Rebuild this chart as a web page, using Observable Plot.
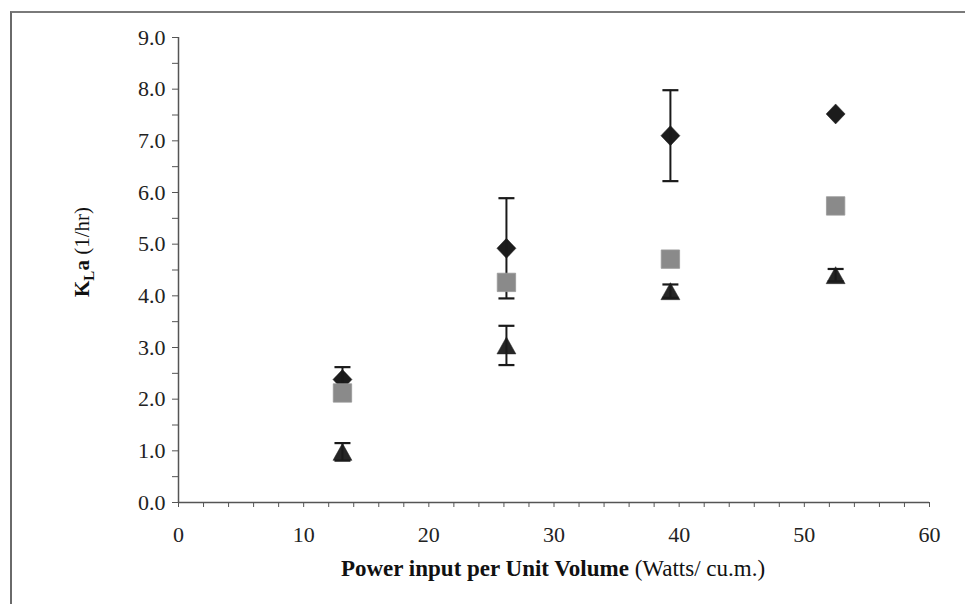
<!DOCTYPE html>
<html>
<head>
<meta charset="utf-8">
<script src="https://cdn.jsdelivr.net/npm/d3@7"></script>
<script src="https://cdn.jsdelivr.net/npm/@observablehq/plot@0.6"></script>
<style>
  body { margin: 0; background: #fff; }
  #wrap { position: relative; width: 965px; height: 604px; overflow: hidden; }
  #frame { position: absolute; left: 10px; top: 11px; right: -2px; bottom: -2px;
           border-left: 2px solid #6a6a6a; border-top: 2px solid #7a7a7a; pointer-events: none; }
</style>
</head>
<body>
<div id="wrap"><div id="frame"></div></div>
<script>
// ---- data ----
const xValues  = [13.1, 26.2, 39.3, 52.5];          // Power input per unit volume (W/m³)
const seriesA  = [2.38, 4.92, 7.10, 7.52];          // diamonds
const errA     = [0.24, 0.97, 0.88, 0.00];
const seriesB  = [2.12, 4.26, 4.71, 5.74];          // squares
const errB     = [0.00, 0.00, 0.00, 0.00];
const seriesC  = [0.98, 3.04, 4.09, 4.40];          // triangles
const errC     = [0.17, 0.38, 0.13, 0.12];
const xTickLabels = [0, 10, 20, 30, 40, 50, 60];
const yTickLabels = [0, 1, 2, 3, 4, 5, 6, 7, 8, 9];

const rows = (ys, es) => xValues.map((x, i) => ({x, y: ys[i], e: es[i]}));
const A = rows(seriesA, errA), B = rows(seriesB, errB), C = rows(seriesC, errC);
const caps = d => d.filter(r => r.e > 0).flatMap(r => [{x: r.x, y: r.y + r.e}, {x: r.x, y: r.y - r.e}]);

// ---- custom symbols ----
const rad = s => Math.sqrt(s / Math.PI);
const diamondSym = {draw(c, s) { const r = rad(s); c.moveTo(0, -r); c.lineTo(r * 0.95, 0); c.lineTo(0, r); c.lineTo(-r * 0.95, 0); c.closePath(); }};
const squareSym  = {draw(c, s) { const r = rad(s) * 0.92; c.moveTo(-r, -r); c.lineTo(r, -r); c.lineTo(r, r); c.lineTo(-r, r); c.closePath(); }};
const triSym     = {draw(c, s) { const r = rad(s); c.moveTo(0, -0.85 * r); c.lineTo(0.95 * r, 0.85 * r); c.lineTo(-0.95 * r, 0.85 * r); c.closePath(); }};
const capSym     = {draw(c, s) { const r = rad(s); c.moveTo(-0.8 * r, 0); c.lineTo(0.8 * r, 0); }};

const xMinor = d3.range(0, 61, 2);
const yMinor = d3.range(0, 9.01, 0.5);

const errMarks = (d, color) => [
  Plot.ruleX(d.filter(r => r.e > 0), {x: "x", y1: r => r.y - r.e, y2: r => r.y + r.e, stroke: color, strokeWidth: 2}),
  Plot.dot(caps(d), {x: "x", y: "y", r: 10, symbol: capSym, fill: "none", stroke: color, strokeWidth: 2.2})
];

const FONT = "'Liberation Serif', 'Times New Roman', serif";

const plot = Plot.plot({
  width: 965, height: 604,
  marginLeft: 178, marginRight: 36, marginTop: 37, marginBottom: 102,
  style: {fontFamily: FONT, fontSize: "22px", color: "#222", background: "transparent"},
  x: {domain: [0, 60]},
  y: {domain: [0, 9]},
  marks: [
    Plot.axisX({ticks: xMinor, tickSize: 5, tickPadding: 19, stroke: "#555",
                tickFormat: d => xTickLabels.includes(d) ? String(d) : "", label: null}),
    Plot.axisY({ticks: yMinor, tickSize: 6, tickPadding: 7, stroke: "#555",
                tickFormat: d => yTickLabels.includes(d) ? d.toFixed(1) : "", label: null}),
    Plot.ruleX([0], {stroke: "#555", strokeWidth: 1.5}),
    Plot.ruleY([0], {stroke: "#555", strokeWidth: 1.5}),
    Plot.dot(A, {x: "x", y: "y", r: 10, symbol: diamondSym, fill: "#1c1c1c", stroke: "#1c1c1c", strokeWidth: 0.5}),
    ...errMarks(A, "#1a1a1a"),
    Plot.dot(B, {x: "x", y: "y", r: 10, symbol: squareSym, fill: "#8a8a8a", stroke: "#999", strokeWidth: 0.8}),
    ...errMarks(B, "#1a1a1a"),
    Plot.dot(C, {x: "x", y: "y", r: 10, symbol: triSym, fill: "#262626", stroke: "#262626", strokeWidth: 0.5}),
    ...errMarks(C, "#1a1a1a")
  ]
});

const svg = d3.select(plot);
// x-axis title
const xt = svg.append("text")
  .attr("x", 553).attr("y", 576)
  .attr("text-anchor", "middle")
  .attr("fill", "#111")
  .style("font-family", FONT)
  .style("font-size", "23px");
xt.append("tspan").attr("font-weight", "bold").text("Power input per Unit Volume");
xt.append("tspan").text(" (Watts/ cu.m.)");
// y-axis title
const yt = svg.append("text")
  .attr("transform", "translate(89,252) rotate(-90)")
  .attr("text-anchor", "middle")
  .attr("fill", "#111")
  .style("font-family", FONT)
  .style("font-size", "21px");
yt.append("tspan").attr("font-weight", "bold").text("K");
yt.append("tspan").attr("font-weight", "bold").attr("font-size", "15px").attr("dy", "5").text("L");
yt.append("tspan").attr("font-weight", "bold").attr("dy", "-5").text("a");
yt.append("tspan").text(" (1/hr)");

document.getElementById("wrap").prepend(plot);
</script>
</body>
</html>
